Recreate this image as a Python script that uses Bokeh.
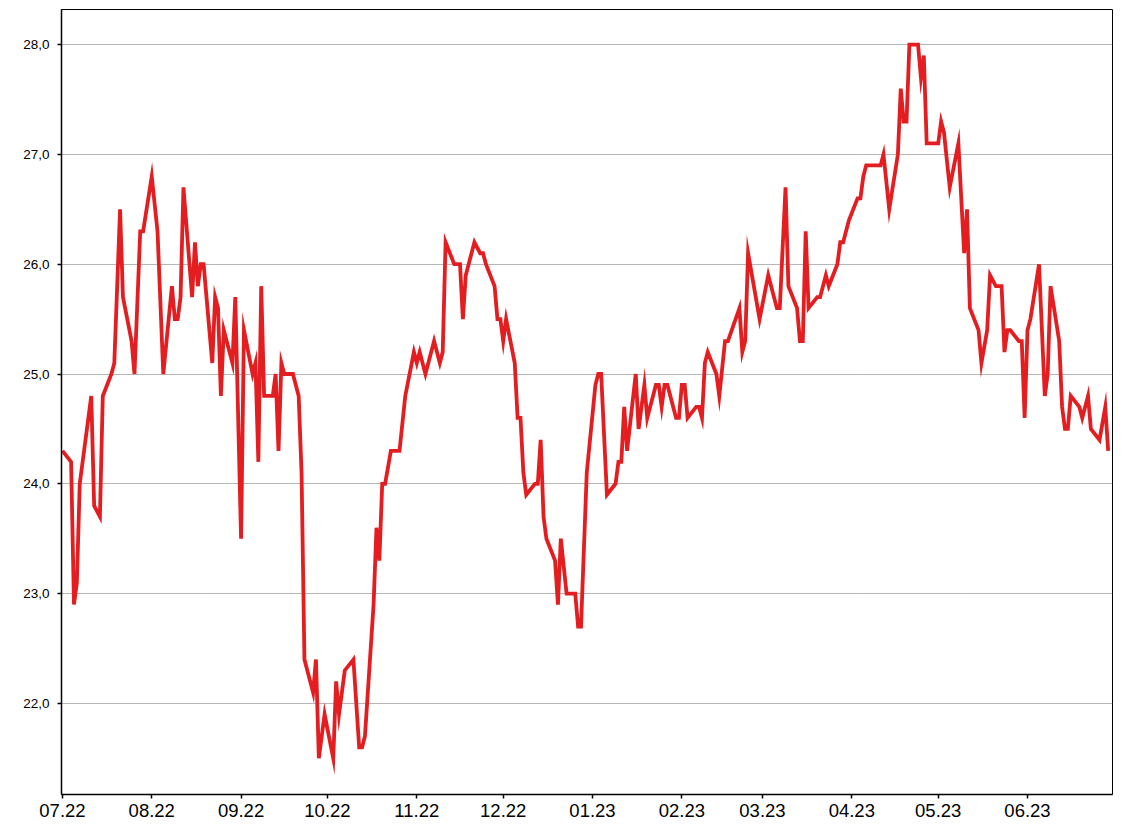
import pandas as pd
from bokeh.plotting import figure
from bokeh.models import (Range1d, DatetimeTickFormatter, MonthsTicker, FixedTicker,
                          CustomJSTickFormatter, ColumnDataSource)
from bokeh.embed import file_html
from bokeh.resources import INLINE

# ---- data ----
start_date = "2022-07-01"
end_date = "2023-06-30"
# calendar-day offsets from start_date
day_offsets = [0, 3, 4, 5, 6, 10, 11, 13, 14, 17, 18, 20, 21, 24, 25, 27, 28, 31, 33, 35,
               38, 39, 40, 41, 42, 45, 46, 47, 48, 49, 52, 53, 54, 55, 56, 59, 60, 62, 63, 66,
               67, 68, 69, 70, 73, 74, 75, 76, 77, 80, 82, 83, 84, 87, 88, 89, 91, 94, 95, 96,
               98, 101, 103, 104, 105, 106, 108, 109, 110, 111, 112, 114, 117, 119, 122, 123, 124, 126, 129, 131,
               132, 133, 136, 138, 139, 140, 143, 145, 146, 147, 150, 151, 152, 153, 154, 157, 158, 159, 160, 161,
               164, 165, 166, 167, 168, 171, 172, 173, 175, 178, 179, 180, 182, 185, 186, 187, 189, 192, 193, 194,
               195, 196, 199, 200, 202, 203, 206, 207, 208, 209, 210, 213, 214, 215, 216, 217, 220, 221, 222, 223,
               224, 227, 228, 230, 231, 235, 236, 237, 238, 242, 245, 248, 249, 251, 252, 255, 256, 257, 258, 259,
               262, 263, 265, 266, 269, 270, 271, 273, 276, 277, 278, 279, 284, 285, 287, 290, 291, 292, 293, 294,
               297, 298, 299, 300, 304, 305, 306, 308, 311, 313, 314, 315, 318, 319, 321, 322, 324, 326, 327, 328,
               329, 332, 333, 334, 335, 336, 339, 341, 342, 343, 346, 347, 348, 349, 350, 353, 354, 356, 357, 360,
               362, 363]
values = [24.3, 24.2, 22.9, 23.1, 24.0, 24.8, 23.8, 23.7, 24.8, 25.0, 25.1, 26.5, 25.7, 25.3, 25.0, 26.3, 26.3, 26.8, 26.3, 25.0,
          25.8, 25.5, 25.5, 25.7, 26.7, 25.7, 26.2, 25.8, 26.0, 26.0, 25.1, 25.7, 25.6, 24.8, 25.4, 25.1, 25.7, 23.5, 25.4, 25.0,
          25.1, 24.2, 25.8, 24.8, 24.8, 25.0, 24.3, 25.1, 25.0, 25.0, 24.8, 24.1, 22.4, 22.1, 22.4, 21.5, 21.9, 21.5, 22.2, 21.9,
          22.3, 22.4, 21.6, 21.6, 21.7, 22.1, 22.9, 23.6, 23.3, 24.0, 24.0, 24.3, 24.3, 24.8, 25.2, 25.1, 25.2, 25.0, 25.3, 25.1,
          25.2, 26.2, 26.0, 26.0, 25.5, 25.9, 26.2, 26.1, 26.1, 26.0, 25.8, 25.5, 25.5, 25.3, 25.5, 25.1, 24.6, 24.6, 24.1, 23.9,
          24.0, 24.0, 24.4, 23.7, 23.5, 23.3, 22.9, 23.5, 23.0, 23.0, 22.7, 22.7, 24.1, 24.9, 25.0, 25.0, 23.9, 24.0, 24.2, 24.2,
          24.7, 24.3, 25.0, 24.5, 24.9, 24.6, 24.9, 24.9, 24.7, 24.9, 24.9, 24.6, 24.6, 24.9, 24.9, 24.6, 24.7, 24.7, 24.6, 25.1,
          25.2, 25.0, 24.8, 25.3, 25.3, 25.6, 25.2, 25.3, 26.1, 25.5, 25.9, 25.6, 25.6, 26.7, 25.8, 25.6, 25.3, 25.3, 26.3, 25.6,
          25.7, 25.7, 25.9, 25.8, 26.0, 26.2, 26.2, 26.4, 26.6, 26.6, 26.8, 26.9, 26.9, 27.0, 26.5, 27.0, 27.6, 27.3, 27.3, 28.0,
          28.0, 27.7, 27.9, 27.1, 27.1, 27.3, 27.2, 26.7, 27.1, 26.1, 26.5, 25.6, 25.4, 25.1, 25.4, 25.9, 25.8, 25.8, 25.2, 25.4,
          25.4, 25.3, 25.3, 24.6, 25.4, 25.5, 26.0, 24.8, 25.0, 25.8, 25.3, 24.7, 24.5, 24.5, 24.8, 24.7, 24.6, 24.8, 24.5, 24.4,
          24.7, 24.3]
y_ticks = [22, 23, 24, 25, 26, 27, 28]

# ---- build ----
start = pd.Timestamp(start_date)
dates = start + pd.to_timedelta(day_offsets, unit="D")
src = ColumnDataSource(dict(date=dates, value=values))

p = figure(width=1120, height=828, x_axis_type="datetime",
           output_backend="svg", toolbar_location=None,
           x_range=Range1d(start - pd.Timedelta(hours=8), pd.Timestamp(end_date) + pd.Timedelta(hours=12)),
           y_range=Range1d(21.17, 28.32),
           min_border_left=61, min_border_right=8, min_border_top=9, min_border_bottom=34)

p.background_fill_color = "white"
p.border_fill_color = "white"
p.outline_line_color = "black"
p.outline_line_width = 1
p.outline_line_alpha = 1

p.xgrid.visible = False
p.ygrid.grid_line_color = "#6e6e6e"
p.ygrid.grid_line_dash = "1 1"
p.ygrid.grid_line_width = 1

p.line("date", "value", source=src, line_color="#E41E20", line_width=3.8, line_join="miter")

xa = p.xaxis[0]
xa.ticker = MonthsTicker(months=list(range(1, 13)))
xa.formatter = DatetimeTickFormatter(months="%m.%y", days="%m.%y", years="%m.%y")
xa.major_label_text_font = "Liberation Sans"
xa.major_label_text_font_size = "18.5px"
xa.major_label_text_color = "black"
xa.major_label_standoff = 5

ya = p.yaxis[0]
ya.ticker = FixedTicker(ticks=y_ticks)
ya.formatter = CustomJSTickFormatter(code="return tick.toFixed(1).replace('.', ',');")
ya.major_label_text_font = "Liberation Sans"
ya.major_label_text_font_size = "13.5px"
ya.major_label_text_color = "black"
ya.major_label_standoff = 8

for ax in (xa, ya):
    ax.axis_line_color = "black"
    ax.axis_line_width = 1.5
    ax.major_tick_line_color = "black"
    ax.major_tick_line_width = 1.5
    ax.major_tick_out = 4
    ax.major_tick_in = 0
    ax.minor_tick_line_color = None

open("out.html", "w").write(file_html(p, INLINE))
